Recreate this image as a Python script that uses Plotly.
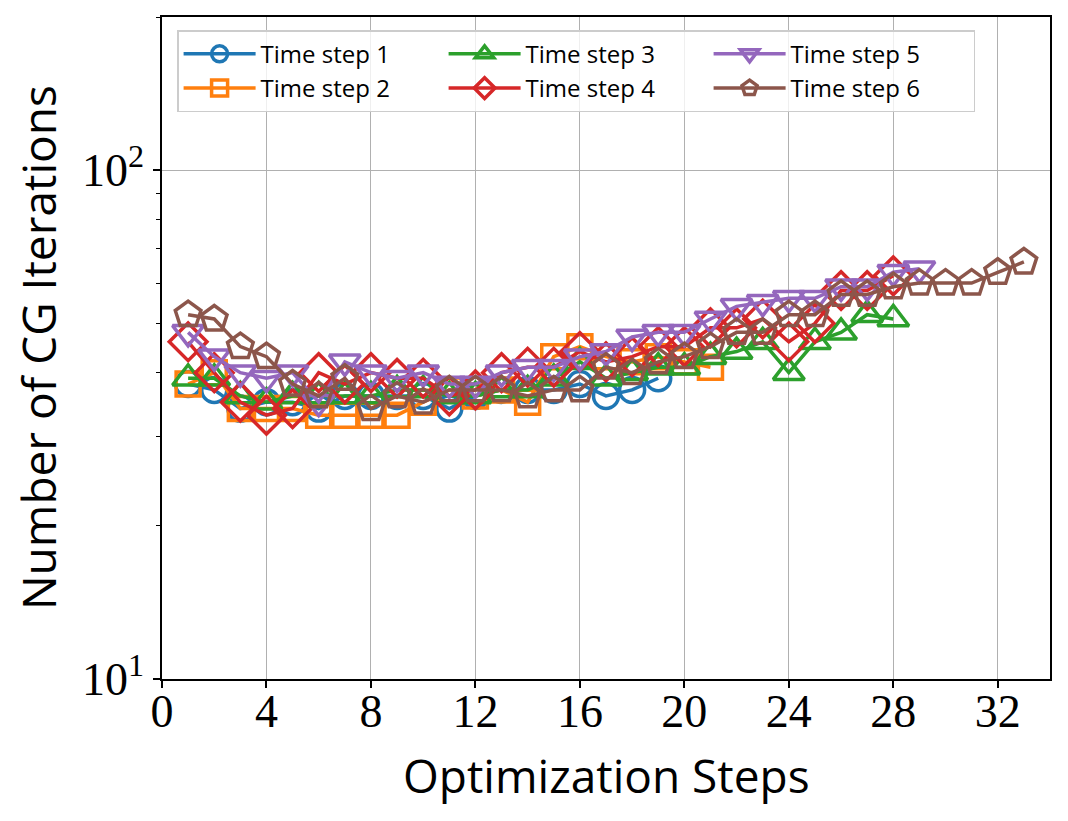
import plotly.graph_objects as go

# Data =========================================================================
series_names = ["Time step 1", "Time step 2", "Time step 3",
                "Time step 4", "Time step 5", "Time step 6"]

ts1 = [38, 37, 34, 35, 35, 34, 36, 36, 36, 36, 34, 36, 37, 37, 37, 38, 36, 37, 39]
ts2 = [38, 40, 34, 34, 34, 33, 33, 33, 33, 35, 37, 36, 37, 35, 43, 45, 43, 42, 43, 42, 41]
ts3 = [39, 39, 36, 35, 36, 36, 36, 36, 37, 37, 36, 36, 37, 37, 39, 42, 39, 40, 41,
       41, 43, 44, 46, 40, 46, 48, 52, 51]
ts4 = [46, 40, 35, 33, 34, 40, 38, 40, 39, 39, 36, 37, 40, 41, 41, 44, 42, 43, 45,
       45, 49, 49, 51, 46, 50, 58, 58, 62]
ts5 = [48, 43, 40, 39, 40, 35, 42, 40, 39, 40, 38, 38, 40, 41, 41, 43, 44, 47, 48,
       48, 51, 54, 55, 56, 56, 59, 59, 63, 64]
ts6 = [52, 51, 45, 43, 38, 36, 39, 34, 36, 35, 37, 37, 37, 36, 37, 37, 41, 40, 42,
       43, 45, 48, 48, 52, 52, 57, 57, 59, 60, 60, 60, 63, 66]

all_series = [ts1, ts2, ts3, ts4, ts5, ts6]

x_tickvals = [0, 4, 8, 12, 16, 20, 24, 28, 32]
y_tickvals = [10, 100]
y_ticktext = ["10<sup>1</sup>", "10<sup>2</sup>"]
y_minor_vals = [20, 30, 40, 50, 60, 70, 80, 90, 200]

x_title = "Optimization Steps"
y_title = "Number of CG Iterations"

# Settings =====================================================================
colours = ['#1f77b4', '#ff7f0e', '#2ca02c', '#d62728', '#9467bd', '#8c564b']
symbols = ['circle-open', 'square-open', 'triangle-up-open',
           'diamond-open', 'triangle-down-open', 'pentagon-open']
sizes = [25, 24, 27, 29, 27, 27]
legend_ranks = [1, 4, 2, 5, 3, 6]   # column-wise ordering in a 3 column legend

serif_font = "Liberation Serif"
sans_font = "Open Sans"
grid_colour = '#b0b0b0'

# Figure =======================================================================
fig = go.Figure()

for name, values, colour, symbol, size, rank in zip(
        series_names, all_series, colours, symbols, sizes, legend_ranks):
    fig.add_trace(go.Scatter(
        x=list(range(1, len(values) + 1)),
        y=values,
        name=name,
        mode='lines+markers',
        line=dict(color=colour, width=3.5),
        marker=dict(symbol=symbol, size=size, color=colour,
                    line=dict(color=colour, width=3.5)),
        legendrank=rank,
    ))

# page body has an 8px margin, margins are compensated for it
fig.update_layout(
    width=1068, height=821,
    margin=dict(l=154, r=26, t=9, b=150),
    plot_bgcolor='white',
    paper_bgcolor='white',
    showlegend=True,
)

fig.update_xaxes(
    range=[0, 34],
    tickvals=x_tickvals,
    automargin=False,
    showline=True, linecolor='black', linewidth=1.5, mirror=True,
    ticks='outside', ticklen=7, tickwidth=1.5, tickcolor='black',
    tickfont=dict(family=serif_font, size=46, color='black'),
    ticklabelstandoff=-16,
    showgrid=True, gridcolor=grid_colour, gridwidth=1.2,
    zeroline=False,
)

fig.update_yaxes(
    type='log',
    range=[1, 2.30103],
    tickvals=y_tickvals, ticktext=y_ticktext,
    automargin=False,
    showline=True, linecolor='black', linewidth=1.5, mirror=True,
    ticks='outside', ticklen=7, tickwidth=1.5, tickcolor='black',
    tickfont=dict(family=serif_font, size=46, color='black'),
    showgrid=True, gridcolor=grid_colour, gridwidth=1.2,
    minor=dict(tickvals=y_minor_vals, ticks='outside', ticklen=4,
               tickwidth=1.2, tickcolor='black', showgrid=False),
    zeroline=False,
)

# Axis titles as annotations (exact placement) ---------------------------------
fig.add_annotation(
    text=x_title, xref='paper', yref='paper',
    x=0.5, y=-0.145, xanchor='center', yanchor='middle',
    showarrow=False,
    font=dict(family=sans_font, size=46, color='black'),
)
fig.add_annotation(
    text=y_title, xref='paper', yref='paper',
    x=-0.1396, y=0.5, xanchor='center', yanchor='middle',
    textangle=-90, showarrow=False,
    font=dict(family=sans_font, size=46, color='black'),
)

# Legend -----------------------------------------------------------------------
fig.update_layout(legend=dict(
    orientation='h',
    x=0.017, y=0.98,
    xanchor='left', yanchor='top',
    bgcolor='rgba(255,255,255,0.8)',
    bordercolor='#cccccc', borderwidth=1.5,
    font=dict(family=sans_font, size=24, color='black'),
    itemwidth=72,
    entrywidth=178,
    traceorder='normal',
))

fig.write_html("out.html")
